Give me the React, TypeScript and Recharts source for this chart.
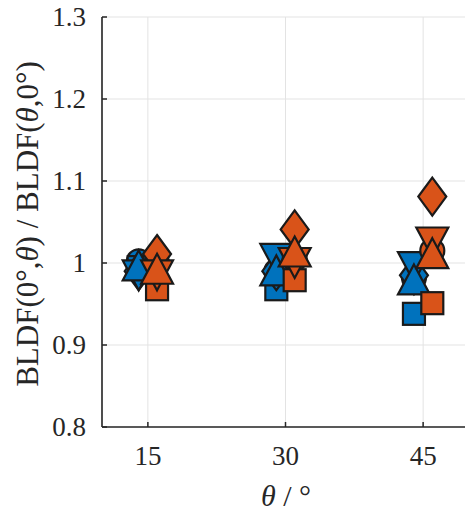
import React from 'react';
import { ScatterChart, Scatter, XAxis, YAxis, CartesianGrid } from 'recharts';

// ---- data ----
const thetas = [15, 30, 45];
const xTicks = [15, 30, 45];
const yTicks = [0.8, 0.9, 1, 1.1, 1.2, 1.3];
const xDomain = [10, 50];
const yDomain = [0.8, 1.3];
const blueOffset = -1;
const orangeOffset = 1;

const blueCircle = [1.002, 0.99, 0.982];
const blueSquare = [0.995, 0.968, 0.938];
const blueDiamond = [0.99, 0.99, 0.985];
const blueTriDown = [0.985, 1.005, 0.995];
const blueTriUp = [0.997, 0.991, 0.98];

const orangeCircle = [1.0, 1.005, 1.015];
const orangeSquare = [0.968, 0.979, 0.951];
const orangeDiamond = [1.011, 1.041, 1.081];
const orangeTriDown = [0.985, 1.0, 1.025];
const orangeTriUp = [0.993, 1.014, 1.012];

// ---- styles ----
const BLUE = '#0072BD';
const ORANGE = '#D95319';
const EDGE = '#1a1a1a';
const AXIS = '#262626';
const GRID = '#e3e3e3';
const FONT = 'Liberation Serif';
const fontCss = { fontFamily: FONT };

type Kind = 'circle' | 'square' | 'diamond' | 'triDown' | 'triUp';

const makeShape = (kind: Kind, fill: string) => (props: any) => {
  const { cx, cy } = props;
  if (cx == null || cy == null) return <g />;
  const common = { fill, stroke: EDGE, strokeWidth: 2.2, strokeLinejoin: 'miter' as const };
  switch (kind) {
    case 'circle':
      return <circle cx={cx} cy={cy} r={12} {...common} />;
    case 'square':
      return <rect x={cx - 11} y={cy - 11} width={22} height={22} {...common} />;
    case 'diamond':
      return <path d={`M${cx},${cy - 19} L${cx + 14},${cy} L${cx},${cy + 19} L${cx - 14},${cy} Z`} {...common} />;
    case 'triUp':
      return <path d={`M${cx},${cy - 15} L${cx + 16},${cy + 15} L${cx - 16},${cy + 15} Z`} {...common} />;
    case 'triDown':
      return <path d={`M${cx},${cy + 15} L${cx + 16},${cy - 15} L${cx - 16},${cy - 15} Z`} {...common} />;
  }
  return <g />;
};

const toData = (vals: number[], offset: number) => thetas.map((t, i) => ({ x: t + offset, y: vals[i] }));

const series: { name: string; vals: number[]; offset: number; kind: Kind; color: string }[] = [
  { name: 'bc', vals: blueCircle, offset: blueOffset, kind: 'circle', color: BLUE },
  { name: 'bs', vals: blueSquare, offset: blueOffset, kind: 'square', color: BLUE },
  { name: 'bd', vals: blueDiamond, offset: blueOffset, kind: 'diamond', color: BLUE },
  { name: 'bv', vals: blueTriDown, offset: blueOffset, kind: 'triDown', color: BLUE },
  { name: 'b^', vals: blueTriUp, offset: blueOffset, kind: 'triUp', color: BLUE },
  { name: 'oc', vals: orangeCircle, offset: orangeOffset, kind: 'circle', color: ORANGE },
  { name: 'os', vals: orangeSquare, offset: orangeOffset, kind: 'square', color: ORANGE },
  { name: 'od', vals: orangeDiamond, offset: orangeOffset, kind: 'diamond', color: ORANGE },
  { name: 'ov', vals: orangeTriDown, offset: orangeOffset, kind: 'triDown', color: ORANGE },
  { name: 'o^', vals: orangeTriUp, offset: orangeOffset, kind: 'triUp', color: ORANGE },
];

const TL = 5;

const BottomTick = (props: any) => {
  const { x, y, payload } = props;
  return (
    <g>
      <line x1={x} x2={x} y1={y} y2={y - TL} stroke={AXIS} strokeWidth={1.5} />
      <text x={x} y={y + 38} textAnchor="middle" style={fontCss} fontSize={27} fill={AXIS}>
        {String(payload.value)}
      </text>
    </g>
  );
};

const TopTick = (props: any) => {
  const { x, y } = props;
  return <line x1={x} x2={x} y1={y} y2={y + TL} stroke={AXIS} strokeWidth={1.5} />;
};

const LeftTick = (props: any) => {
  const { x, y, payload } = props;
  return (
    <g>
      <line x1={x} x2={x + TL} y1={y} y2={y} stroke={AXIS} strokeWidth={1.5} />
      <text x={x - 16} y={y} dy="0.35em" textAnchor="end" style={fontCss} fontSize={27} fill={AXIS}>
        {String(payload.value)}
      </text>
    </g>
  );
};

const RightTick = (props: any) => {
  const { x, y } = props;
  return <line x1={x} x2={x - TL} y1={y} y2={y} stroke={AXIS} strokeWidth={1.5} />;
};

const axisLine = { stroke: AXIS, strokeWidth: 1.6 };

export default function App() {
  return (
    <div style={{ position: 'absolute', left: 0, top: 0, width: 465, height: 512, overflow: 'hidden', background: '#fff' }}>
      <ScatterChart width={469} height={512} margin={{ top: 17, right: 0, bottom: 0, left: 0 }}>
        <CartesianGrid stroke={GRID} strokeWidth={1} />
        <XAxis
          type="number"
          dataKey="x"
          domain={xDomain}
          ticks={xTicks}
          allowDataOverflow
          height={85}
          tickSize={0}
          tickMargin={0}
          tickLine={false}
          axisLine={axisLine}
          tick={<BottomTick />}
          interval={0}
        />
        <XAxis
          xAxisId="top"
          orientation="top"
          type="number"
          dataKey="x"
          domain={xDomain}
          ticks={xTicks}
          allowDataOverflow
          height={0}
          tickSize={0}
          tickMargin={0}
          tickLine={false}
          axisLine={axisLine}
          tick={<TopTick />}
          interval={0}
        />
        <YAxis
          type="number"
          dataKey="y"
          domain={yDomain}
          ticks={yTicks}
          allowDataOverflow
          width={102}
          tickSize={0}
          tickMargin={0}
          tickLine={false}
          axisLine={axisLine}
          tick={<LeftTick />}
          interval={0}
        />
        <YAxis
          yAxisId="right"
          orientation="right"
          type="number"
          dataKey="y"
          domain={yDomain}
          ticks={yTicks}
          allowDataOverflow
          width={0}
          tickSize={0}
          tickMargin={0}
          tickLine={false}
          axisLine={axisLine}
          tick={<RightTick />}
          interval={0}
        />
        {series.map((s) => (
          <Scatter
            key={s.name}
            name={s.name}
            data={toData(s.vals, s.offset)}
            fill={s.color}
            shape={makeShape(s.kind, s.color)}
            isAnimationActive={false}
          />
        ))}
      </ScatterChart>
      <svg
        width={465}
        height={512}
        style={{ position: 'absolute', left: 0, top: 0, pointerEvents: 'none' }}
      >
        <text
          x={0}
          y={0}
          transform="translate(38,224) rotate(-90)"
          textAnchor="middle"
          style={fontCss}
          fontSize={31}
          fill={AXIS}
        >
          BLDF(0°,<tspan fontStyle="italic">θ</tspan>) / BLDF(<tspan fontStyle="italic">θ</tspan>,0°)
        </text>
        <text x={286} y={506} textAnchor="middle" style={fontCss} fontSize={30} fill={AXIS}>
          <tspan fontStyle="italic">θ</tspan> / °
        </text>
      </svg>
    </div>
  );
}
